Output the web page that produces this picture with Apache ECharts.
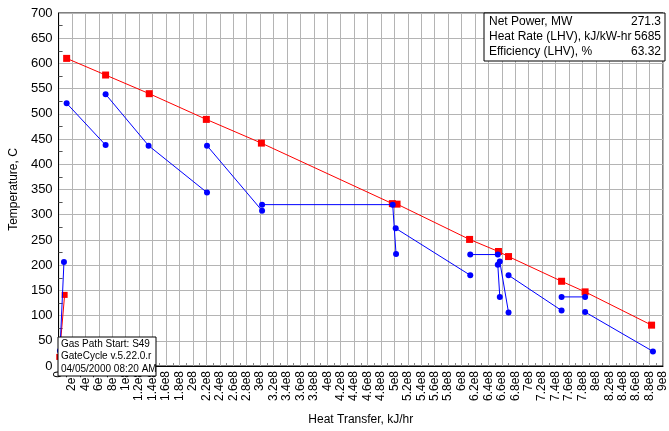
<!DOCTYPE html>
<html>
<head>
<meta charset="utf-8">
<script src="https://cdn.jsdelivr.net/npm/echarts@6/dist/echarts.min.js"></script>
<style>
html,body{margin:0;padding:0;background:#fff;}
#c{width:669px;height:431px;}
</style>
</head>
<body>
<div id="c"></div>
<script>
// Gas path (red) – start segment and main line
var redStartX = [1e6, 9e6];
var redStartY = [18, 141];
var redX = [1.2e7, 7.0e7, 1.35e8, 2.2e8, 3.02e8, 4.97e8, 5.04e8, 6.12e8, 6.55e8, 6.70e8, 7.49e8, 7.84e8, 8.83e8];
var redY = [610, 577, 540, 489, 442, 322, 321, 251, 227, 217, 168, 147, 81];

// Water/steam path (blue) segments: x values and y values
var blueSegX = [
  [2e6, 8e6],
  [1.2e7, 7.0e7],
  [7.0e7, 1.34e8, 2.21e8],
  [2.21e8, 3.03e8],
  [3.03e8, 4.975e8, 5.025e8],
  [5.02e8, 6.13e8],
  [6.13e8, 6.54e8],
  [6.54e8, 6.57e8],
  [6.57e8, 6.70e8],
  [6.70e8, 7.49e8],
  [7.49e8, 7.84e8],
  [7.84e8, 8.85e8]
];
var blueSegY = [
  [30, 206],
  [521, 438],
  [539, 437, 344],
  [437, 308],
  [320, 320, 222],
  [273, 180],
  [221, 221],
  [201, 137],
  [207, 106],
  [180, 110],
  [137, 137],
  [107, 29]
];

var infoLabels = ['Net Power, MW', 'Heat Rate (LHV), kJ/kW-hr', 'Efficiency (LHV), %'];
var infoValues = ['271.3', '5685', '63.32'];
var noteLines = ['Gas Path Start: S49', 'GateCycle v.5.22.0.r', '04/05/2000 08:20 AM'];

function zip(xs, ys){ return xs.map(function(x,i){ return [x, ys[i]]; }); }
function fmtE(v){
  if (v === 0) return '0';
  var e = Math.floor(Math.log10(Math.abs(v)) + 1e-9);
  var m = parseFloat((v / Math.pow(10, e)).toFixed(3));
  return m + 'e' + e;
}

var FONT = 'Liberation Sans, Arial, sans-serif';
var series = [];
series.push({type:'line', data: zip(redStartX, redStartY), symbol:'rect', symbolSize:6,
  lineStyle:{color:'#ff0000', width:1}, itemStyle:{color:'#ff0000'}, animation:false, z:3});
series.push({type:'line', data: zip(redX, redY), symbol:'rect', symbolSize:7,
  lineStyle:{color:'#ff0000', width:1}, itemStyle:{color:'#ff0000'}, animation:false, z:3});
blueSegX.forEach(function(xs, i){
  series.push({type:'line', data: zip(xs, blueSegY[i]), symbol:'circle', symbolSize:6,
    lineStyle:{color:'#0000ff', width:1}, itemStyle:{color:'#0000ff'}, animation:false, z:4});
});

var graphics = [];
// info box top right
var bx = 484, by = 13, bw = 181, bh = 48;
graphics.push({type:'rect', shape:{x:bx, y:by, width:bw, height:bh}, style:{fill:'#fff', stroke:'#000', lineWidth:1}, z:100});
infoLabels.forEach(function(t, i){
  graphics.push({type:'text', x:bx+5, y:by+9+i*15, style:{text:t, font:'12px '+FONT, fill:'#000', textVerticalAlign:'middle', verticalAlign:'middle'}, z:101});
  graphics.push({type:'text', x:bx+bw-4, y:by+9+i*15, style:{text:infoValues[i], font:'12px '+FONT, fill:'#000', textAlign:'right', align:'right', textVerticalAlign:'middle', verticalAlign:'middle'}, z:101});
});
// note box bottom left
var nx = 58, ny = 337, nw = 98, nh = 39;
graphics.push({type:'rect', shape:{x:nx, y:ny, width:nw, height:nh}, style:{fill:'#fff', stroke:'#000', lineWidth:1}, z:100});
noteLines.forEach(function(t, i){
  graphics.push({type:'text', x:nx+3, y:ny+7+i*12.5, style:{text:t, font:'10px '+FONT, fill:'#000', textVerticalAlign:'middle', verticalAlign:'middle'}, z:101});
});

var chart = echarts.init(document.getElementById('c'), null, {renderer:'canvas'});
chart.setOption({
  backgroundColor:'#fff',
  animation:false,
  textStyle:{fontFamily:FONT},
  grid:{left:57, right:3, top:13, bottom:55, show:true, borderColor:'#000', borderWidth:1},
  xAxis:{
    type:'value', min:0, max:9e8, interval:2e7,
    name:'Heat Transfer, kJ/hr', nameLocation:'middle', nameGap:48,
    nameTextStyle:{fontSize:12, color:'#000', fontFamily:FONT},
    axisLine:{show:true, lineStyle:{color:'#000'}},
    axisTick:{show:false, inside:true},
    minorTick:{show:true, splitNumber:2, length:3, lineStyle:{color:'#888'}},
    axisLabel:{rotate:90, fontSize:12, color:'#000', margin:5, formatter:fmtE, fontFamily:FONT, showMaxLabel:true, showMinLabel:true},
    splitLine:{show:true, lineStyle:{color:'#b4b4b4', width:1}}
  },
  yAxis:{
    type:'value', min:0, max:700, interval:50,
    name:'Temperature, C', nameLocation:'middle', nameGap:31, nameRotate:90,
    nameTextStyle:{fontSize:12, color:'#000', fontFamily:FONT},
    axisLine:{show:true, lineStyle:{color:'#000'}},
    axisTick:{show:false, inside:true},
    minorTick:{show:true, splitNumber:2, length:4, lineStyle:{color:'#555'}},
    axisLabel:{fontSize:13, color:'#000', margin:6, fontFamily:FONT},
    splitLine:{show:true, lineStyle:{color:'#b4b4b4', width:1}}
  },
  series: series,
  graphic: graphics
});
</script>
</body>
</html>
